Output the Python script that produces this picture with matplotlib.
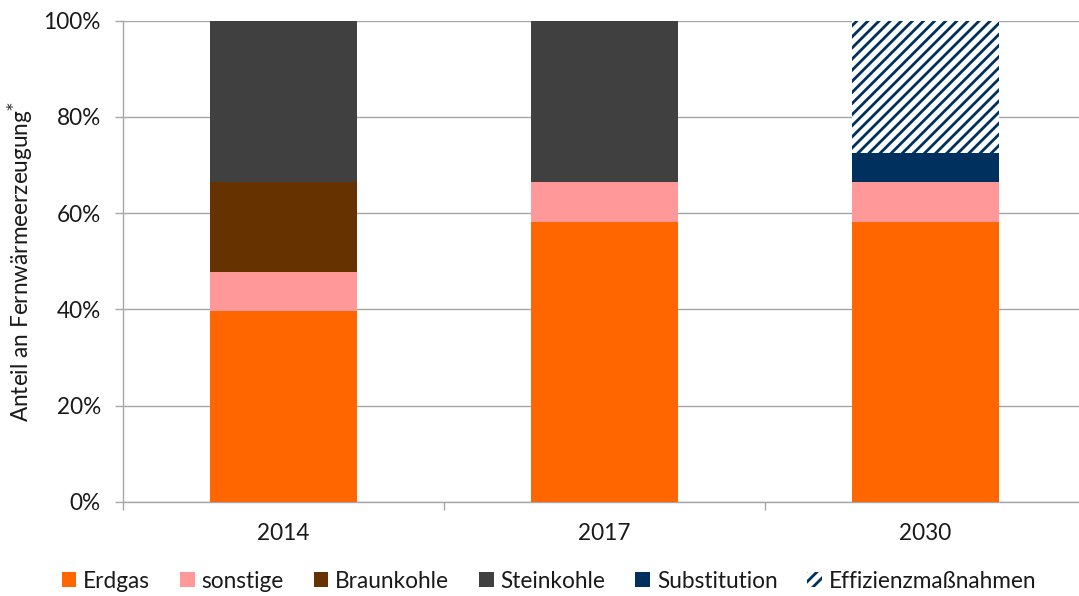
import matplotlib
matplotlib.use("Agg")
import matplotlib.pyplot as plt
import numpy as np
from matplotlib.patches import Patch

years = ["2014", "2017", "2030"]
series = ["Erdgas", "sonstige", "Braunkohle", "Steinkohle", "Substitution", "Effizienzmaßnahmen"]
erdgas = [39.6, 58.2, 58.2]
sonstige = [8.2, 8.3, 8.3]
braunkohle = [18.7, 0.0, 0.0]
steinkohle = [33.5, 33.5, 0.0]
substitution = [0.0, 0.0, 5.9]
effizienz = [0.0, 0.0, 27.6]

colors = ["#FF6600", "#FF9999", "#663300", "#404040", "#00305E", "#00305E"]
values = [erdgas, sonstige, braunkohle, steinkohle, substitution, effizienz]

DPI = 100
plt.rcParams['font.family'] = ['Lato', 'DejaVu Sans']
plt.rcParams['hatch.linewidth'] = 2.0
plt.rcParams['hatch.color'] = "#00305E"

fig = plt.figure(figsize=(10.79, 5.96), dpi=DPI)
ax = fig.add_axes([122.7/1079, (596-501.7)/596, 963/1079, 481/596])

x = np.arange(len(years))
bottom = np.zeros(len(years))
width = 0.457
handles = []
for name, vals, col in zip(series, values, colors):
    vals = np.array(vals)
    if name == "Effizienzmaßnahmen":
        ax.bar(x, vals, width, bottom=bottom, facecolor="white", edgecolor=col,
               hatch="///", linewidth=0, zorder=3)
        handles.append(Patch(facecolor="white", edgecolor=col, hatch="///", linewidth=0, label=name))
    else:
        ax.bar(x, vals, width, bottom=bottom, color=col, linewidth=0, zorder=3)
        handles.append(Patch(facecolor=col, linewidth=0, label=name))
    bottom += vals

ax.set_xlim(-0.5, 2.5)
ax.set_ylim(0, 100)
ax.set_yticks([0, 20, 40, 60, 80, 100])
ax.set_yticklabels([f"{v}%" for v in [0, 20, 40, 60, 80, 100]])
ax.set_xticks([-0.5, 0.5, 1.5, 2.5])
ax.set_xticklabels([])
ax.set_xticks(x, minor=True)
ax.set_xticklabels(years, minor=True)

gc = "#A6A6A6"
ax.grid(axis="y", color=gc, linewidth=1.0, zorder=0)
ax.set_axisbelow(True)
for s in ["top", "right"]:
    ax.spines[s].set_visible(False)
for s in ["left", "bottom"]:
    ax.spines[s].set_color(gc)
    ax.spines[s].set_linewidth(1.0)

fs = 16.3
ax.tick_params(axis="y", which="major", length=5.8, width=1.0, color=gc, pad=10.0,
               labelsize=fs, labelcolor="#1a1a1a")
ax.tick_params(axis="x", which="major", length=5.8, width=1.0, color=gc)
ax.tick_params(axis="x", which="minor", length=0, pad=15, labelsize=fs, labelcolor="#1a1a1a")

ax.set_ylabel("Anteil an Fernwärmeerzeugung$^{*}$", fontsize=fs, color="#1a1a1a", labelpad=6)

fig.legend(handles=handles, loc="center", bbox_to_anchor=(549/1079, 1-581/596), ncol=6,
           frameon=False, fontsize=fs, handlelength=0.65, handleheight=0.65,
           handletextpad=0.3, columnspacing=1.32, borderaxespad=0, borderpad=0,
           labelcolor="#1a1a1a")

fig.savefig("out.png", dpi=DPI)
